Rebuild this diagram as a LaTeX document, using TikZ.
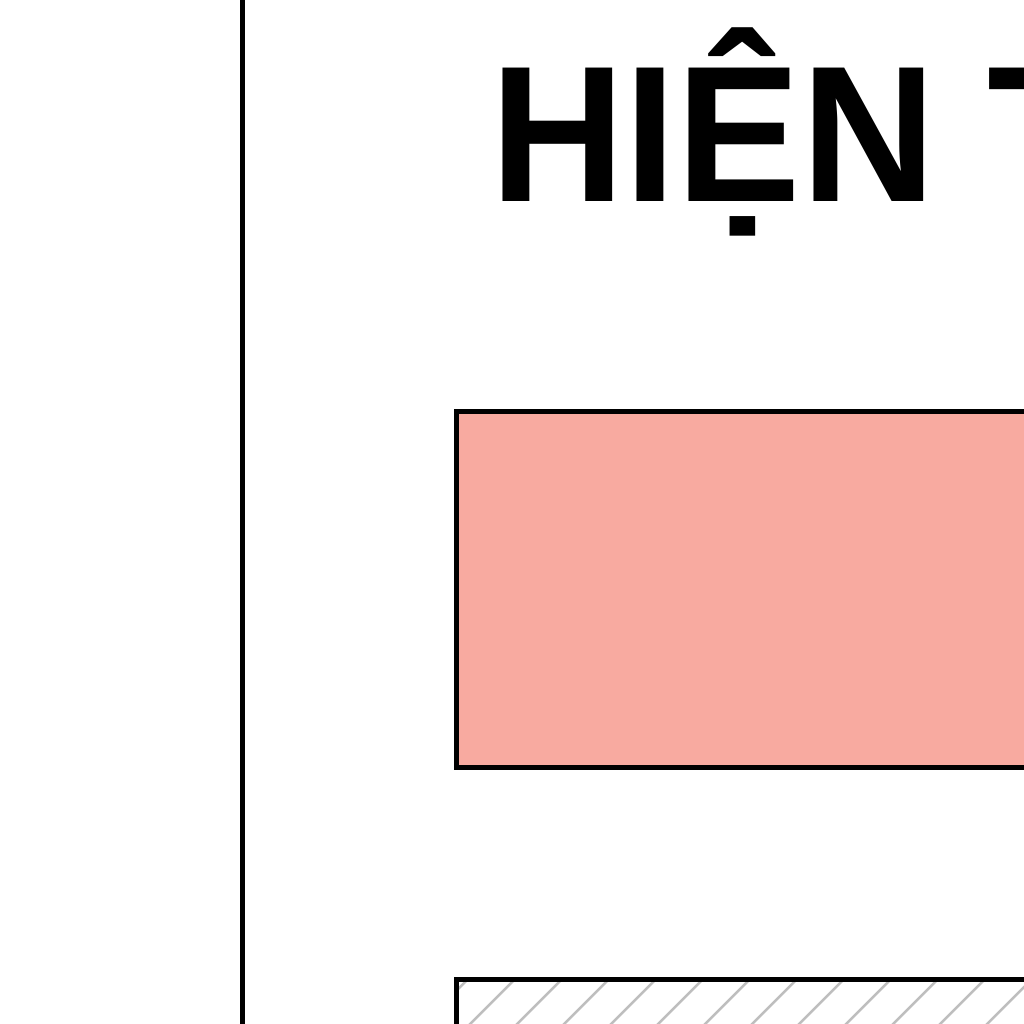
\documentclass[tikz,border=0pt]{standalone}
\usepackage{fontspec}
\setmainfont{Liberation Sans}
\definecolor{pinkfill}{RGB}{248,170,160}
\definecolor{hatchgray}{RGB}{190,190,190}
\begin{document}
\begin{tikzpicture}[x=1pt,y=-1pt,
  frameline/.style={draw=black,line width=5pt},
  hatchline/.style={draw=hatchgray,line width=2.5pt}]
\clip (0,0) rectangle (1024,1024);
\fill[white] (0,0) rectangle (1024,1024);
% vertical separator
\draw[line width=5pt] (242.5,-10) -- (242.5,1040);
% title
\node[anchor=base west,inner sep=0pt] (title) at (490,202)
  {\scalebox{1}[1.04]{\fontsize{186.5}{190}\selectfont\bfseries HIỆN T}};
% pink box
\path[fill=pinkfill,frameline] (456.5,411.5) rectangle (1200,767.5);
\coordinate (pinkbox) at (456.5,411.5);
% hatched box
\fill[white] (456.5,979.5) rectangle (1200,1200);
\begin{scope}
  \clip (456.5,979.5) rectangle (1200,1200);
  \foreach \k in {-2,...,16} {
    \draw[hatchline] ({1447+47*\k-1100},1100) -- ({1447+47*\k-900},900);
  }
\end{scope}
\draw[frameline] (456.5,979.5) rectangle (1200,1200);
\end{tikzpicture}
\end{document}
